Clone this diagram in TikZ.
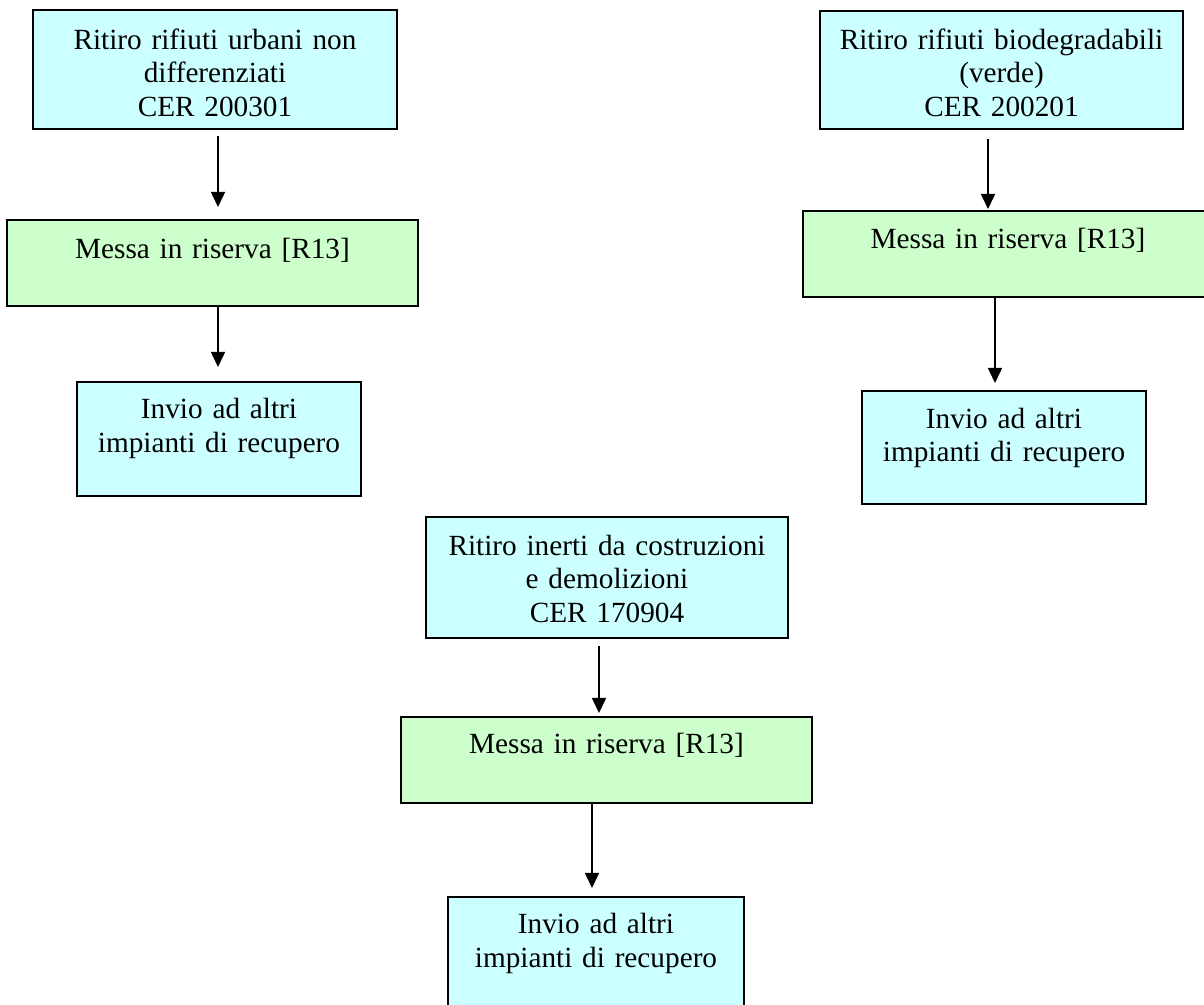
\documentclass[tikz,border=0pt]{standalone}
\usepackage{fontspec}
\setmainfont{Liberation Serif}
\usetikzlibrary{arrows.meta}
\definecolor{ciano}{HTML}{CCFFFF}
\definecolor{verde}{HTML}{CCFFCC}
\begin{document}
\begin{tikzpicture}[x=0.41pt,y=-0.41pt,>={Triangle[length=6.2pt,width=5.8pt]},
  box/.style={draw,line width=0.8pt,inner sep=0pt,outer sep=0pt,anchor=north,align=center,
    font=\fontsize{12}{13.9}\selectfont},
  cbox/.style={box,fill=ciano},
  gbox/.style={box,fill=verde},
  freccia/.style={->,line width=0.55pt}]
\useasboundingbox (0,0) rectangle (1204,1004);
\clip (0,0) rectangle (1204,1004);
% colonna sinistra
\node[cbox,text width=149.2pt,text height=16pt,text depth=32.8pt] (r1) at (215,10)
  {Ritiro rifiuti urbani non\\differenziati\\CER 200301};
\node[gbox,text width=168.5pt,text height=15.6pt,text depth=19.7pt] (m1) at (212.5,220)
  {Messa in riserva [R13]};
\node[cbox,text width=116.4pt,text height=14.8pt,text depth=32pt] (i1) at (219,382)
  {Invio ad altri\\impianti di recupero};
% colonna destra
\node[cbox,text width=148.8pt,text height=15.6pt,text depth=32.8pt] (r2) at (1001.5,11)
  {Ritiro rifiuti biodegradabili\\(verde)\\CER 200201};
\node[gbox,text width=168.1pt,text height=15.2pt,text depth=20.1pt] (m2) at (1008,211)
  {Messa in riserva [R13]};
\node[cbox,text width=116.4pt,text height=15.2pt,text depth=31.2pt] (i2) at (1004,391)
  {Invio ad altri\\impianti di recupero};
% centro
\node[cbox,text width=148.4pt,text height=15.6pt,text depth=34pt] (r3) at (607,517)
  {Ritiro inerti da costruzioni\\e demolizioni\\CER 170904};
\node[gbox,text width=168.5pt,text height=14.8pt,text depth=20.5pt] (m3) at (606.5,717)
  {Messa in riserva [R13]};
\node[cbox,text width=121.4pt,text height=14.8pt,text depth=32.4pt] (i3) at (596,897)
  {Invio ad altri\\impianti di recupero};
% frecce
\draw[freccia] ([shift={(3,7)}]r1.south) -- ([shift={(5.5,-13)}]m1.north);
\draw[freccia] ([shift={(5.5,0)}]m1.south) -- ([shift={(-1,-15)}]i1.north);
\draw[freccia] ([shift={(-13.5,10)}]r2.south) -- ([shift={(-20,-2)}]m2.north);
\draw[freccia] ([shift={(-13,0)}]m2.south) -- ([shift={(-9,-8)}]i2.north);
\draw[freccia] ([shift={(-8,8)}]r3.south) -- ([shift={(-7.5,-4)}]m3.north);
\draw[freccia] ([shift={(-14.5,0)}]m3.south) -- ([shift={(-4,-9)}]i3.north);
\end{tikzpicture}
\end{document}
